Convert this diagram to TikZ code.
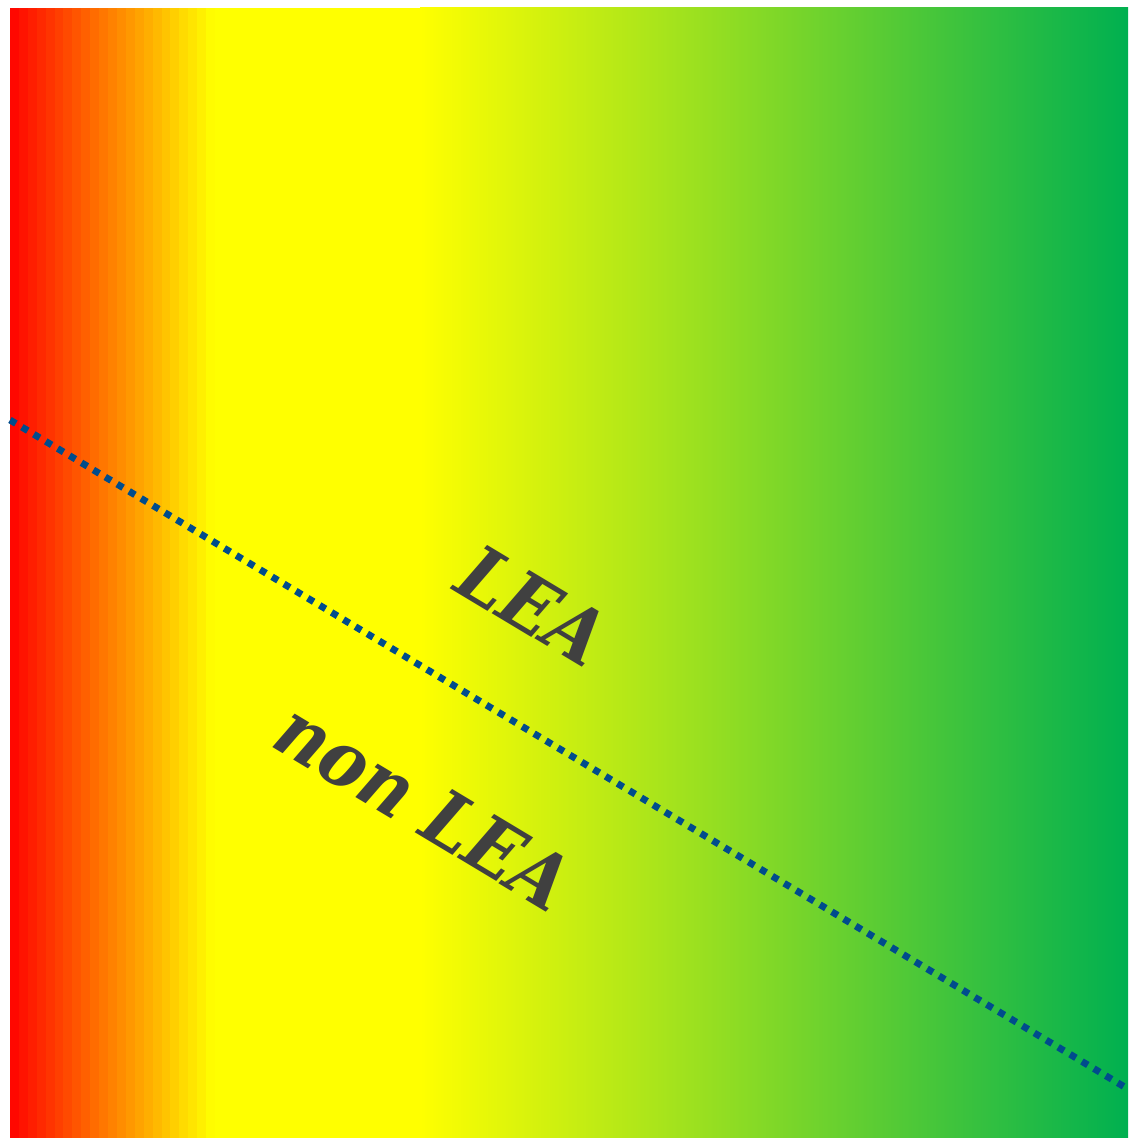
\documentclass[tikz,border=0pt]{standalone}
\usepackage{fontspec}
\setmainfont{DejaVu Serif Condensed}
\usetikzlibrary{positioning}

\definecolor{xlred}{RGB}{255,0,0}
\definecolor{xlyellow}{RGB}{255,255,0}
\definecolor{xlgreen}{RGB}{0,176,80}
\definecolor{lineblue}{RGB}{0,76,140}
\definecolor{labelgray}{RGB}{64,64,64}

\begin{document}
\begin{tikzpicture}[
    x=0.02cm, y=-0.02cm,
    divider/.style={draw=lineblue, line width=3.9pt, dash pattern=on 3.9pt off 4.0pt},
    zone/.style={text=labelgray, font=\bfseries\itshape\fontsize{44}{48}\selectfont, rotate=-31, inner sep=0pt}
  ]
    \useasboundingbox (0,0) rectangle (1128,1138);

    % red to yellow in steps
    \foreach \i in {0,...,22} {
      \pgfmathsetmacro\p{100-(\i+0.7)*100/23}
      \fill[xlred!\p!xlyellow] ({10+\i*8.913},8) rectangle ({10+(\i+1)*8.913+0.6},1138);
    }
    \fill[xlyellow] (214.5,8) rectangle (420.5,1138);
    \shade[left color=xlyellow, right color=xlgreen] (420,8) rectangle (1128,1138);

    \coordinate (west) at (10,420);
    \coordinate (east) at (1128,1089);
    \draw[divider] (west) -- (east);

    \node[zone] (lea) at (533,605) {LEA};
    \node[zone] (nonlea) at (424,806) {non LEA};
  \end{tikzpicture}
\end{document}
